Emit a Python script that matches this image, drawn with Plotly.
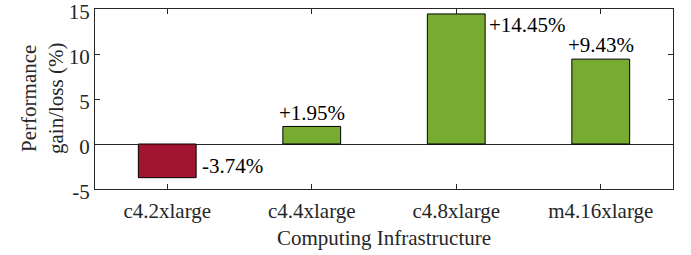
import plotly.graph_objects as go

categories = ["c4.2xlarge", "c4.4xlarge", "c4.8xlarge", "m4.16xlarge"]
values = [-3.74, 1.95, 14.45, 9.43]
labels = ["-3.74%", "+1.95%", "+14.45%", "+9.43%"]
colors = ["#A2142F", "#77AC30", "#77AC30", "#77AC30"]
y_ticks = [-5, 0, 5, 10, 15]

FONT = "Liberation Serif, Times New Roman, Times, serif"
FS = 21
TXT = "#262626"

fig = go.Figure()
fig.add_trace(go.Bar(
    x=categories, y=values, width=0.4,
    marker=dict(color=colors, line=dict(color="black", width=1)),
    showlegend=False,
))

# label placement: (xshift, yshift, xanchor, yanchor)
placements = [
    (33, -2, "left", "bottom"),
    (0, -1, "center", "bottom"),
    (31, 3, "left", "top"),
    (0, 0, "center", "bottom"),
]
for c, v, t, (xs, ys, xa, ya) in zip(categories, values, labels, placements):
    fig.add_annotation(x=c, y=v, text=t, showarrow=False, xshift=xs, yshift=ys,
                       xanchor=xa, yanchor=ya,
                       font=dict(family=FONT, size=FS, color="black"))

# axis titles
fig.add_annotation(xref="paper", yref="paper", x=0, y=0.5, xshift=-53,
                   text="Performance<br>gain/loss (%)", textangle=-90, showarrow=False,
                   xanchor="center", yanchor="middle",
                   font=dict(family=FONT, size=FS, color=TXT))
fig.add_annotation(xref="paper", yref="paper", x=0.5, y=0, yshift=-49,
                   text="Computing Infrastructure", showarrow=False,
                   xanchor="center", yanchor="middle",
                   font=dict(family=FONT, size=FS, color=TXT))

axis_common = dict(showline=True, linecolor=TXT, linewidth=1, mirror="ticks",
                   ticks="inside", ticklen=5, tickcolor=TXT, showgrid=False,
                   ticklabeloverflow="allow", automargin=False,
                   tickfont=dict(family=FONT, size=FS, color=TXT))

fig.update_xaxes(range=[-0.5, 3.5], ticklabelstandoff=3, **axis_common)
fig.update_yaxes(range=[-5, 15], tickvals=y_ticks, ticktext=[str(v) for v in y_ticks],
                 zeroline=True, zerolinecolor=TXT, zerolinewidth=1,
                 ticklabelshift=3, **axis_common)

fig.update_layout(width=691, height=255, margin=dict(l=95, r=18, t=9, b=66),
                  font=dict(family=FONT),
                  plot_bgcolor="white", paper_bgcolor="white", bargap=0.6)
fig.write_html("out.html", config={"displayModeBar": False},
               post_script="document.body.style.margin='0';")
